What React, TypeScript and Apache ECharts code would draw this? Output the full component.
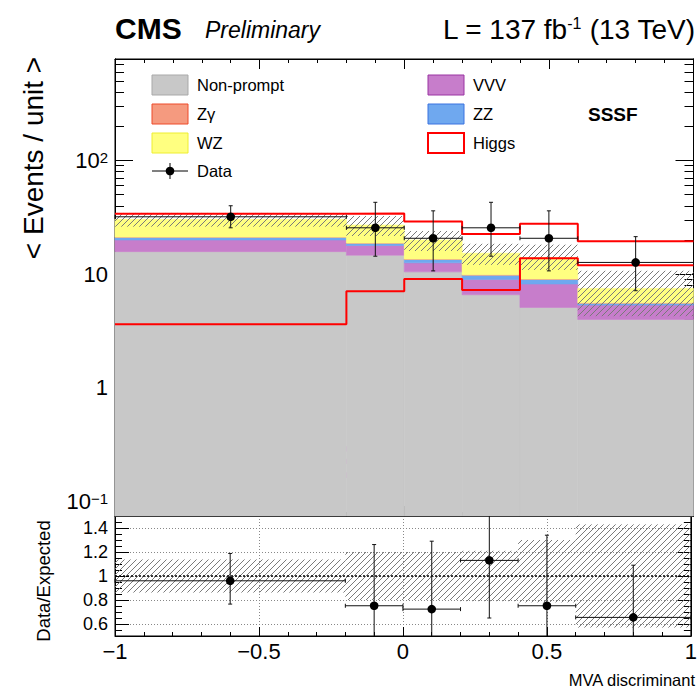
import React, { useEffect, useRef } from "react";
import * as echarts from "echarts";

// ---------------- data ----------------
const binEdges = [-1, -0.2, 0, 0.2, 0.4, 0.6, 1];
const nonPrompt = [15.8, 14.7, 10.5, 6.6, 5.1, 4.0];
const vvv = [4.2, 3.2, 2.1, 2.4, 3.1, 1.35];
const zz = [1.1, 0.8, 0.9, 0.8, 0.8, 0.2];
const zgamma = [0.1, 0.1, 0.1, 0.1, 0.1, 0.05];
const wz = [9.2, 8.3, 6.4, 5.4, 4.9, 1.9];
const higgs = [3.63, 7.1, 9.08, 7.26, 13.8, 12.0];

const dataX = [-0.6, -0.1, 0.1, 0.3, 0.5, 0.8];
const dataY = [32.0, 25.6, 20.7, 25.6, 20.7, 12.7];
const dataYLow = [25.6, 14.4, 10.7, 14.4, 10.7, 7.16];
const dataYHigh = [40.0, 42.9, 36.1, 42.9, 36.1, 21.4];

const ratio = [0.96, 0.752, 0.724, 1.13, 0.752, 0.655];
const ratioLow = [0.766, 0.42, 0.37, 0.65, 0.38, 0.37];
const ratioHigh = [1.188, 1.262, 1.29, 1.9, 1.34, 1.09];

const bandLow = [0.862, 0.8, 0.8, 0.79, 0.78, 0.57];
const bandHigh = [1.138, 1.2, 1.2, 1.21, 1.3, 1.43];

const yMajorTicks = [0.1, 1, 10, 100];
const ratioMajorTicks = [0.6, 0.8, 1, 1.2, 1.4];
const ratioMinorTicks = [0.55, 0.65, 0.7, 0.75, 0.85, 0.9, 0.95, 1.05, 1.1, 1.15, 1.25, 1.3, 1.35, 1.45];

// ---------------- layout / style constants ----------------
const Y_MIN = 0.0748;
const Y_MAX = 781;
const R_MIN = 0.5;
const R_MAX = 1.5;
const FONT = "'Liberation Sans', Arial, Helvetica, sans-serif";

const logMinorTicks: number[] = [];
[0.01, 0.1, 1, 10, 100].forEach((d) => {
  for (let m = 2; m <= 9; m++) {
    const v = +(m * d).toPrecision(3);
    if (v > Y_MIN && v < Y_MAX) logMinorTicks.push(v);
  }
});

const nBins = binEdges.length - 1;
const components = [
  { name: "Non-prompt", values: nonPrompt, color: "#c8c8c8" },
  { name: "VVV", values: vvv, color: "#c77dcb" },
  { name: "ZZ", values: zz, color: "#6fa8ef" },
  { name: "Zγ", values: zgamma, color: "#f59a7f" },
  { name: "WZ", values: wz, color: "#ffff80" },
];

const bkgTotal = Array.from({ length: nBins }, (_, i) =>
  components.reduce((s, c) => s + c.values[i], 0)
);
const totalWithHiggs = bkgTotal.map((b, i) => b + higgs[i]);

function stepData(vals: number[]) {
  const d: number[][] = vals.map((v, i) => [binEdges[i], v]);
  d.push([binEdges[nBins], vals[nBins - 1]]);
  return d;
}

function rectRender(color: string) {
  return (params: any, api: any) => {
    const p0 = api.coord([api.value(0), api.value(3)]);
    const p1 = api.coord([api.value(1), api.value(2)]);
    return {
      type: "rect",
      shape: { x: p0[0], y: p0[1], width: p1[0] - p0[0], height: p1[1] - p0[1] },
      style: { fill: color, stroke: color, lineWidth: 0.6 },
    };
  };
}

function hatchRender(spacing: number) {
  return (params: any, api: any) => {
    const p0 = api.coord([api.value(0), api.value(3)]);
    const p1 = api.coord([api.value(1), api.value(2)]);
    const x0 = Math.min(p0[0], p1[0]);
    const x1 = Math.max(p0[0], p1[0]);
    const y0 = Math.min(p0[1], p1[1]);
    const y1 = Math.max(p0[1], p1[1]);
    const children: any[] = [];
    const kStart = Math.floor((x0 + y0) / spacing);
    const kEnd = Math.ceil((x1 + y1) / spacing);
    for (let k = kStart; k <= kEnd; k++) {
      const c = k * spacing;
      const xa = Math.max(x0, c - y1);
      const xb = Math.min(x1, c - y0);
      if (xb - xa > 0.5) {
        children.push({
          type: "line",
          shape: { x1: xa, y1: c - xa, x2: xb, y2: c - xb },
          style: { stroke: "#7a7a7a", lineWidth: 1 },
        });
      }
    }
    return { type: "group", children };
  };
}

function pointRender(clampMin: number, clampMax: number) {
  return (params: any, api: any) => {
    const x = api.value(0);
    const xl = api.value(1);
    const xh = api.value(2);
    const y = api.value(3);
    const ylRaw = api.value(4);
    const yhRaw = api.value(5);
    const yl = Math.max(ylRaw, clampMin);
    const yh = Math.min(yhRaw, clampMax);
    const c = api.coord([x, y]);
    const pl = api.coord([xl, y]);
    const ph = api.coord([xh, y]);
    const pyl = api.coord([x, yl]);
    const pyh = api.coord([x, yh]);
    const st = { stroke: "#111", lineWidth: 1 };
    const cap = 2;
    const children: any[] = [
      { type: "line", shape: { x1: pl[0], y1: c[1], x2: ph[0], y2: c[1] }, style: st },
      { type: "line", shape: { x1: c[0], y1: pyl[1], x2: c[0], y2: pyh[1] }, style: st },
      { type: "line", shape: { x1: pl[0], y1: c[1] - cap, x2: pl[0], y2: c[1] + cap }, style: st },
      { type: "line", shape: { x1: ph[0], y1: c[1] - cap, x2: ph[0], y2: c[1] + cap }, style: st },
    ];
    if (ylRaw >= clampMin)
      children.push({ type: "line", shape: { x1: c[0] - cap, y1: pyl[1], x2: c[0] + cap, y2: pyl[1] }, style: st });
    if (yhRaw <= clampMax)
      children.push({ type: "line", shape: { x1: c[0] - cap, y1: pyh[1], x2: c[0] + cap, y2: pyh[1] }, style: st });
    children.push({ type: "circle", shape: { cx: c[0], cy: c[1], r: 4.3 }, style: { fill: "#000" } });
    return { type: "group", children };
  };
}

// ---------------- axes ----------------
const GRID_LEFT = 115;
const GRID_W = 578.5;

const xBase = (gridIndex: number, position: string, major: number, minor: number, showLabel: boolean, split: boolean) => ({
  type: "value",
  gridIndex,
  position,
  min: -1,
  max: 1,
  interval: 0.5,
  axisLine: { show: true, onZero: false, lineStyle: { color: "#000", width: 1 } },
  axisTick: { show: true, inside: true, length: major, lineStyle: { color: "#000" } },
  minorTick: { show: true, splitNumber: 5, length: minor, lineStyle: { color: "#000" } },
  axisLabel: {
    show: showLabel,
    margin: 4,
    color: "#000",
    fontFamily: FONT,
    fontSize: 22,
    formatter: (v: number) => (v < 0 ? "−" + Math.abs(v) : String(v)),
  },
  splitLine: {
    show: split,
    showMinLine: false,
    showMaxLine: false,
    lineStyle: { color: "#888", type: [1, 2], width: 1 },
  },
  minorSplitLine: { show: false },
});

const yLog = (position: string, values: number[], len: number, showLabel: boolean) => ({
  type: "log",
  gridIndex: 0,
  position,
  min: Y_MIN,
  max: Y_MAX,
  axisLine: { show: true, onZero: false, lineStyle: { color: "#000" } },
  axisTick: { show: true, inside: true, length: len, customValues: values, lineStyle: { color: "#000" } },
  axisLabel: {
    show: showLabel,
    customValues: values,
    margin: 7,
    color: "#000",
    fontFamily: FONT,
    fontSize: 22,
    formatter: (v: number) => {
      const e = Math.round(Math.log10(v));
      if (e === 0) return "1";
      if (e === 1) return "10";
      return "{b|10}{s|" + (e < 0 ? "−1" : String(e)) + "}";
    },
    rich: {
      b: { fontSize: 22, fontFamily: FONT, color: "#000" },
      s: { fontSize: 15, fontFamily: FONT, color: "#000", verticalAlign: "top" },
    },
  },
  splitLine: { show: false },
});

const yRatio = (position: string, values: number[], len: number, showLabel: boolean, split: boolean) => ({
  type: "value",
  gridIndex: 1,
  position,
  min: R_MIN,
  max: R_MAX,
  axisLine: { show: true, onZero: false, lineStyle: { color: "#000" } },
  axisTick: { show: true, inside: true, length: len, customValues: values, lineStyle: { color: "#000" } },
  axisLabel: {
    show: showLabel,
    customValues: values,
    margin: 7,
    color: "#000",
    fontFamily: FONT,
    fontSize: 18,
  },
  splitLine: { show: split, lineStyle: { color: "#888", type: [1, 2], width: 1 } },
});

// ---------------- legend / text graphics ----------------
const legendLeft = [
  { label: "Non-prompt", fill: "#c8c8c8", stroke: "#a9a9a9", y: 85 },
  { label: "Zγ", fill: "#f59a7f", stroke: "#ee4a2a", y: 114 },
  { label: "WZ", fill: "#ffff80", stroke: "#eeee30", y: 143 },
];
const legendRight = [
  { label: "VVV", fill: "#c77dcb", stroke: "#9a35a2", y: 85 },
  { label: "ZZ", fill: "#6fa8ef", stroke: "#3a72e0", y: 114 },
  { label: "Higgs", fill: "#ffffff", stroke: "#ff0000", y: 143 },
];

function legendItems(items: any[], boxX: number, textX: number) {
  const out: any[] = [];
  items.forEach((it) => {
    out.push({
      type: "rect",
      shape: { x: boxX, y: it.y - 10, width: 36, height: 20 },
      style: { fill: it.fill, stroke: it.stroke, lineWidth: it.label === "Higgs" ? 2 : 1 },
    });
    out.push({
      type: "text",
      x: textX,
      y: it.y,
      style: { text: it.label, font: `16.5px ${FONT}`, fill: "#000", verticalAlign: "middle", align: "left" },
    });
  });
  return out;
}

const graphics: any[] = [
  {
    type: "text",
    x: 115,
    y: 28,
    style: { text: "CMS", font: `bold 30px ${FONT}`, fill: "#000", verticalAlign: "middle" },
  },
  {
    type: "text",
    x: 205,
    y: 30,
    style: { text: "Preliminary", font: `italic 23px ${FONT}`, fill: "#000", verticalAlign: "middle" },
  },
  {
    type: "text",
    x: 695,
    y: 29,
    style: {
      text: "L = 137 fb{s|-1} (13 TeV)",
      font: `28px ${FONT}`,
      fill: "#000",
      align: "right",
      verticalAlign: "middle",
      rich: { s: { fontSize: 16, fontFamily: FONT, fill: "#000", verticalAlign: "top" } },
    },
  },
  ...legendItems(legendLeft, 152, 197),
  ...legendItems(legendRight, 428, 473),
  { type: "line", shape: { x1: 152, y1: 171, x2: 188, y2: 171 }, style: { stroke: "#000", lineWidth: 1 } },
  { type: "line", shape: { x1: 170, y1: 163, x2: 170, y2: 179 }, style: { stroke: "#000", lineWidth: 1 } },
  { type: "circle", shape: { cx: 170, cy: 171, r: 4.3 }, style: { fill: "#000" } },
  {
    type: "text",
    x: 197,
    y: 171,
    style: { text: "Data", font: `16.5px ${FONT}`, fill: "#000", verticalAlign: "middle" },
  },
  {
    type: "text",
    x: 588,
    y: 114,
    style: { text: "SSSF", font: `bold 19px ${FONT}`, fill: "#000", verticalAlign: "middle" },
  },
  {
    type: "text",
    x: 258,
    y: 461,
    style: { text: "WH3l", font: `bold 47px ${FONT}`, fill: "#ff4dff", verticalAlign: "middle" },
  },
  {
    type: "text",
    x: 33,
    y: 158,
    rotation: Math.PI / 2,
    style: { text: "< Events / unit >", font: `28px ${FONT}`, fill: "#000", align: "center", verticalAlign: "middle" },
  },
  {
    type: "text",
    x: 43,
    y: 581,
    rotation: Math.PI / 2,
    style: { text: "Data/Expected", font: `18.5px ${FONT}`, fill: "#000", align: "center", verticalAlign: "middle" },
  },
  {
    type: "text",
    x: 695,
    y: 680,
    style: { text: "MVA discriminant", font: `16.5px ${FONT}`, fill: "#000", align: "right", verticalAlign: "middle" },
  },
];

// ---------------- series ----------------
const series: any[] = [];
let lower = Array.from({ length: nBins }, () => Y_MIN);
components.forEach((c, ci) => {
  const upper = lower.map((l, i) => (ci === 0 ? 0 : l) + c.values[i]);
  series.push({
    type: "custom",
    name: c.name,
    xAxisIndex: 0,
    yAxisIndex: 0,
    encode: { x: [0, 1], y: [2, 3] },
    renderItem: rectRender(c.color),
    data: upper.map((u, i) => [binEdges[i], binEdges[i + 1], lower[i], u]),
    silent: true,
    z: 2,
  });
  lower = upper;
});

series.push({
  type: "custom",
  name: "Unc",
  xAxisIndex: 0,
  yAxisIndex: 0,
  encode: { x: [0, 1], y: [2, 3] },
  renderItem: hatchRender(6),
  data: bkgTotal.map((b, i) => [binEdges[i], binEdges[i + 1], b * bandLow[i], b * bandHigh[i]]),
  silent: true,
  z: 3,
});

series.push({
  type: "line",
  name: "Higgs",
  xAxisIndex: 0,
  yAxisIndex: 0,
  step: "end",
  symbol: "none",
  data: stepData(higgs),
  lineStyle: { color: "#ff0000", width: 2 },
  z: 4,
});
series.push({
  type: "line",
  name: "Total",
  xAxisIndex: 0,
  yAxisIndex: 0,
  step: "end",
  symbol: "none",
  data: stepData(totalWithHiggs),
  lineStyle: { color: "#ff0000", width: 2 },
  z: 4,
});

series.push({
  type: "custom",
  name: "Data",
  xAxisIndex: 0,
  yAxisIndex: 0,
  encode: { x: [0, 1, 2], y: [3, 4, 5] },
  renderItem: pointRender(Y_MIN, Y_MAX),
  data: dataX.map((x, i) => [x, binEdges[i], binEdges[i + 1], dataY[i], dataYLow[i], dataYHigh[i]]),
  silent: true,
  z: 5,
});

// ratio panel
series.push({
  type: "custom",
  name: "RatioUnc",
  xAxisIndex: 2,
  yAxisIndex: 4,
  encode: { x: [0, 1], y: [2, 3] },
  renderItem: hatchRender(6),
  data: bandLow.map((l, i) => [binEdges[i], binEdges[i + 1], l, bandHigh[i]]),
  silent: true,
  z: 3,
});
series.push({
  type: "line",
  name: "One",
  xAxisIndex: 2,
  yAxisIndex: 4,
  symbol: "none",
  data: [
    [-1, 1],
    [1, 1],
  ],
  lineStyle: { color: "#000", width: 1.3, type: [2, 2] },
  z: 4,
});
series.push({
  type: "custom",
  name: "Ratio",
  xAxisIndex: 2,
  yAxisIndex: 4,
  encode: { x: [0, 1, 2], y: [3, 4, 5] },
  renderItem: pointRender(R_MIN, R_MAX),
  data: dataX.map((x, i) => [x, binEdges[i], binEdges[i + 1], ratio[i], ratioLow[i], ratioHigh[i]]),
  silent: true,
  z: 5,
});

const option: any = {
  animation: false,
  backgroundColor: "#ffffff",
  grid: [
    { left: GRID_LEFT, top: 59, width: GRID_W, height: 457, show: true, borderColor: "#000", borderWidth: 1, backgroundColor: "transparent" },
    { left: GRID_LEFT, top: 516, width: GRID_W, height: 120, show: true, borderColor: "#000", borderWidth: 1, backgroundColor: "transparent" },
  ],
  xAxis: [
    xBase(0, "bottom", 10, 4, false, false),
    xBase(0, "top", 10, 4, false, false),
    xBase(1, "bottom", 9, 4, true, true),
  ],
  yAxis: [
    yLog("left", yMajorTicks, 18, true),
    yLog("left", logMinorTicks, 9, false),
    yLog("right", yMajorTicks, 18, false),
    yLog("right", logMinorTicks, 9, false),
    yRatio("left", ratioMajorTicks, 14, true, true),
    yRatio("left", ratioMinorTicks, 7, false, false),
    yRatio("right", ratioMajorTicks, 14, false, false),
    yRatio("right", ratioMinorTicks, 7, false, false),
  ],
  series,
  graphic: graphics,
};

export default function App() {
  const ref = useRef<HTMLDivElement>(null);
  useEffect(() => {
    const chart = echarts.init(ref.current as HTMLDivElement, null, { renderer: "svg" });
    chart.setOption(option);
    return () => chart.dispose();
  }, []);
  return <div ref={ref} style={{ position: "fixed", left: 0, top: 0, width: 700, height: 694 }} />;
}
